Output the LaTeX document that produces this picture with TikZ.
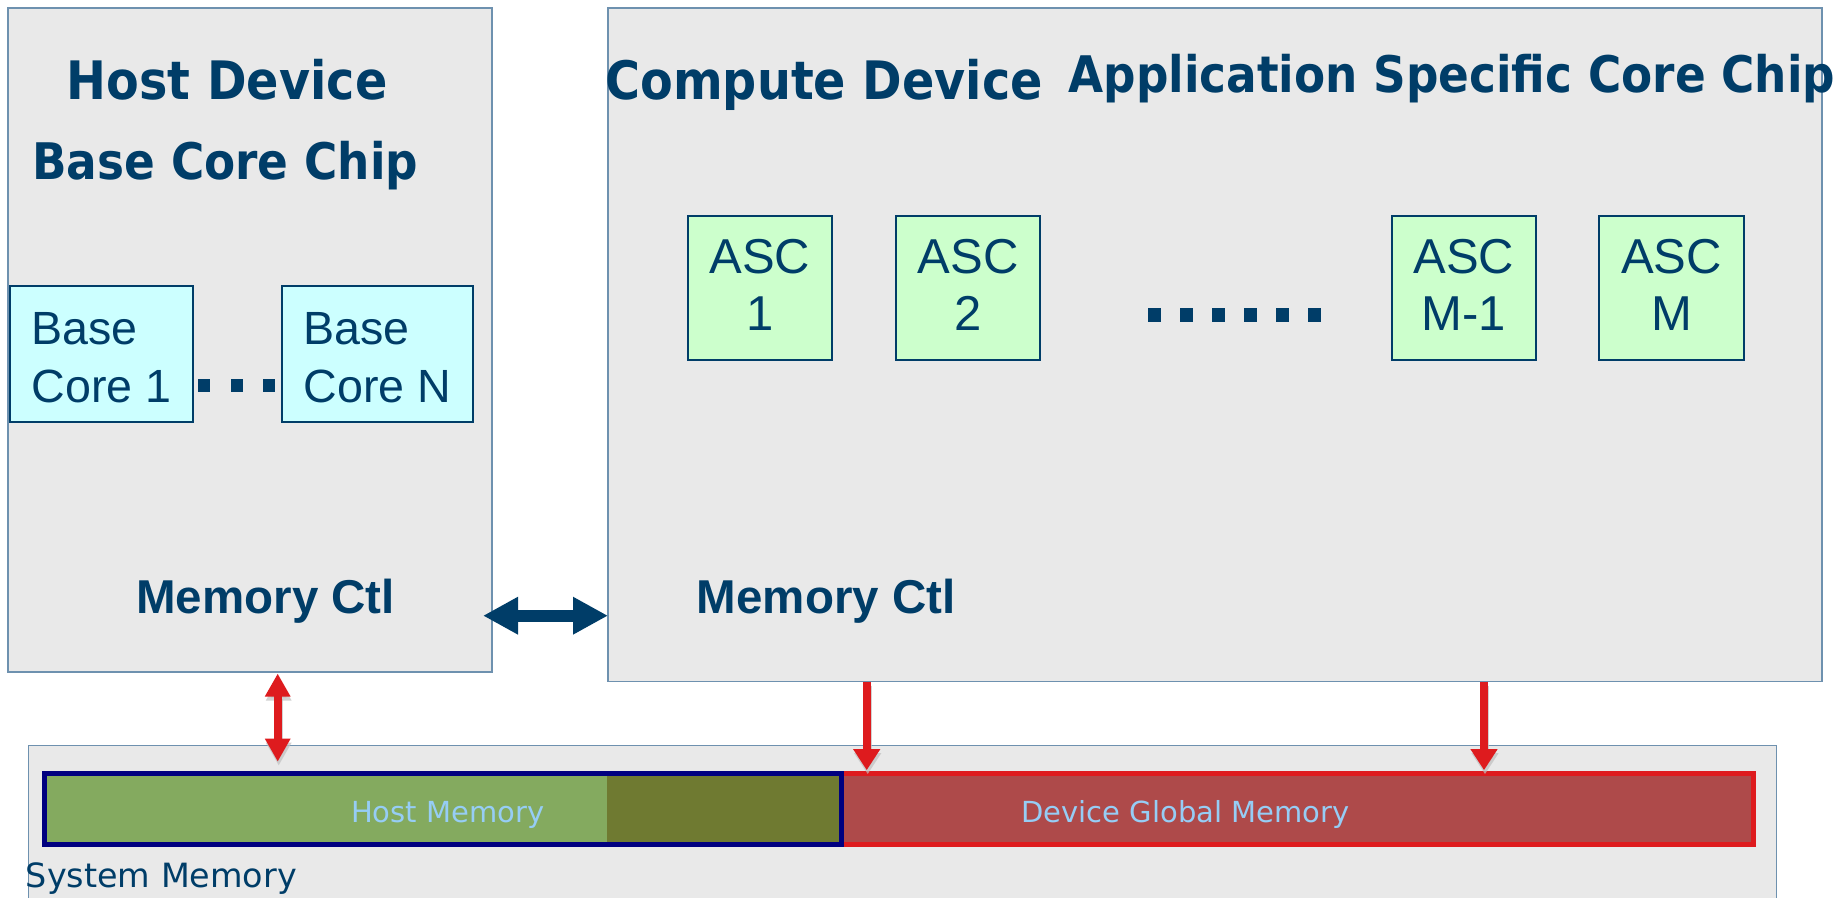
\documentclass[tikz,border=0pt]{standalone}
\usepackage{fontspec}
\usetikzlibrary{arrows.meta,calc}
\newfontfamily\djv{DejaVu Sans}
\newfontfamily\djc{DejaVu Sans}[FakeStretch=0.9]
\newfontfamily\lib{Liberation Sans}
\definecolor{navy}{RGB}{0,61,104}
\definecolor{boxbg}{RGB}{233,233,233}
\definecolor{boxline}{RGB}{110,145,175}
\definecolor{corefill}{RGB}{204,255,255}
\definecolor{ascfill}{RGB}{204,255,204}
\definecolor{memgreen}{RGB}{132,170,95}
\definecolor{memolive}{RGB}{111,122,49}
\definecolor{memred}{RGB}{174,74,74}
\definecolor{redline}{RGB}{222,27,30}
\definecolor{memnavy}{RGB}{0,0,128}
\definecolor{memtext}{RGB}{150,205,245}
\tikzset{
  bigbox/.style={draw=boxline, fill=boxbg, line width=0.6pt, inner sep=0pt, outer sep=0pt},
  corebox/.style={draw=navy, fill=corefill, line width=1pt, inner sep=0pt, outer sep=0pt,
    minimum height=68pt, align=left, text=navy, text height=48pt, text depth=0pt,
    font=\lib\fontsize{23.3}{28.5}\selectfont},
  ascbox/.style={draw=navy, fill=ascfill, line width=1pt, minimum width=72.25pt, minimum height=72pt,
    inner sep=0pt, outer sep=0pt, align=center, text=navy, text height=43pt, text depth=0pt,
    font=\lib\fontsize{24.5}{28.5}\selectfont},
  titlebig/.style={anchor=base west, inner sep=0pt, text=navy, font=\djc\bfseries\fontsize{26.5}{30}\selectfont},
  titlesmall/.style={anchor=base west, inner sep=0pt, text=navy, font=\djc\bfseries\fontsize{25.2}{29}\selectfont},
  memctl/.style={anchor=base west, inner sep=0pt, text=navy, font=\lib\bfseries\fontsize{23.75}{28}\selectfont},
  memlabel/.style={anchor=base west, inner sep=0pt, text=memtext, font=\djv\fontsize{14.5}{17}\selectfont},
  syslabel/.style={anchor=base west, inner sep=0pt, text=navy, font=\djv\fontsize{16.7}{20}\selectfont},
  membar/.style={line width=2.5pt, inner sep=0pt, outer sep=0pt},
  dotsq/.style={fill=navy},
  navyarrow/.style={draw=navy, line width=6pt,
    {Triangle[length=17.5pt,width=17.6pt]}-{Triangle[length=17.5pt,width=17.6pt]}},
  redbiarrow/.style={draw=redline, line width=3.8pt,
    {Triangle[length=11.5pt,width=12pt]}-{Triangle[length=11.5pt,width=12pt]}},
  redarrow/.style={draw=redline, line width=3.8pt, -{Triangle[length=10.5pt,width=12.8pt]}},
  shadowbi/.style={draw=black!25, line width=3.8pt, opacity=0.7,
    {Triangle[length=11.5pt,width=12pt]}-{Triangle[length=11.5pt,width=12pt]}},
  shadowone/.style={draw=black!25, line width=3.8pt, opacity=0.7, -{Triangle[length=10.5pt,width=12.8pt]}}
}
\begin{document}
\begin{tikzpicture}[x=0.5pt,y=-0.5pt]
\useasboundingbox (0,0) rectangle (1846,898);
\fill[white] (0,0) rectangle (1846,898);

% big boxes
\node[bigbox, minimum width=242pt, minimum height=332pt] (host) at (250,340) {};
\node[bigbox, minimum width=607pt, minimum height=336.85pt] (compute) at (1215,344.85) {};
\node[bigbox, minimum width=874.15pt, minimum height=102.65pt] (sysmem) at (902.65,848.35) {};

% titles
\node[titlebig] (hosttitle) at (66.5,99.3) {Host Device};
\node[titlesmall] (basechip) at (32,180) {Base Core Chip};
\node[titlebig] (computetitle) at (605,99.3) {Compute Device};
\node[titlesmall] (asctitle) at (1068,92.3) {Application Specific Core Chip};

% base cores
\node[corebox, minimum width=91.5pt] (core1) at (101.5,354) {Base\\Core 1};
\node[corebox, minimum width=95.5pt] (coreN) at (377.5,354) {Base\\Core N};
\foreach \cx in {203.6,236.5,269.4}
  \fill[dotsq] (\cx-6,379.5) rectangle (\cx+6,392.5);

% ASC cores
\node[ascbox] (asc1) at (759.75,288) {ASC\\1};
\node[ascbox] (asc2) at (968,288) {ASC\\2};
\node[ascbox] (ascm1) at (1463.75,288) {ASC\\M-1};
\node[ascbox] (ascm) at (1671.5,288) {ASC\\M};
\foreach \k in {0,...,5}
  \fill[dotsq] (1148+32*\k,308) rectangle (1161+32*\k,322);

% memory controllers
\node[memctl] (ctl1) at (136,613.3) {Memory Ctl};
\node[memctl] (ctl2) at (696.5,613.3) {Memory Ctl};

% memory bars
\node[membar, draw=redline, fill=memred, minimum width=573.5pt, minimum height=35.8pt] (devmem) at (1180,809) {};
\node[membar, draw=memnavy, fill=memgreen, minimum width=398.3pt, minimum height=35.65pt] (hostmem) at (443.2,808.85) {};
\fill[memolive] (devmem.north west) rectangle (hostmem.south east);
\draw[membar, draw=memnavy] (hostmem.north west) rectangle (hostmem.south east);
\node[memlabel] (hostmemlabel) at (350.7,822.5) {Host Memory};
\node[memlabel] (devmemlabel) at (1021,822.5) {Device Global Memory};
\node[syslabel] (syslabel) at (25.5,887.5) {System Memory};

% connectors
\coordinate (ctlrow) at (0,615.7);
\draw[navyarrow] ($(host.east |- ctlrow)+(-9,0)$) -- (compute.west |- ctlrow);

\coordinate (hx) at (277.7,0);
\coordinate (cx1) at (866.7,0);
\coordinate (cx2) at (1484,0);
\begin{scope}[transform canvas={xshift=0.5pt,yshift=-2pt}]
\draw[shadowbi] ($(hx |- host.south)+(0,1.5)$) -- ($(hx |- hostmem.north)+(0,-11.5)$);
\draw[shadowone] (cx1 |- compute.south) -- ($(cx1 |- devmem.north)+(0,-3)$);
\draw[shadowone] (cx2 |- compute.south) -- ($(cx2 |- devmem.north)+(0,-3)$);
\end{scope}
\draw[redbiarrow] ($(hx |- host.south)+(0,1.5)$) -- ($(hx |- hostmem.north)+(0,-11.5)$);
\draw[redarrow] (cx1 |- compute.south) -- ($(cx1 |- devmem.north)+(0,-3)$);
\draw[redarrow] (cx2 |- compute.south) -- ($(cx2 |- devmem.north)+(0,-3)$);
\end{tikzpicture}
\end{document}
